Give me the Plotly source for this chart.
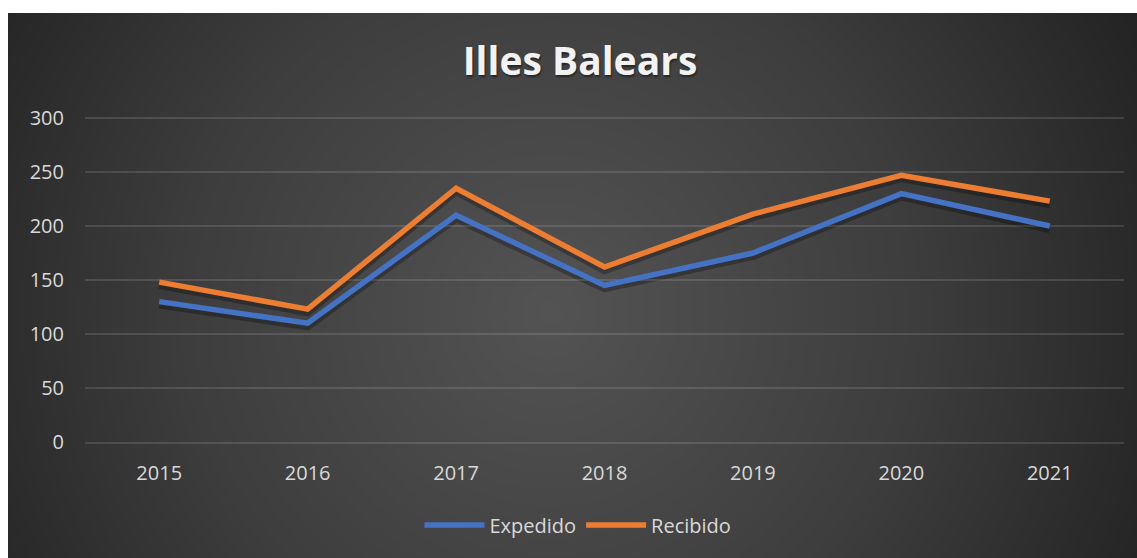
import numpy as np
import plotly.graph_objects as go

years = ["2015", "2016", "2017", "2018", "2019", "2020", "2021"]
expedido = [130, 110, 210, 145, 175, 230, 200]
recibido = [148, 123, 235, 162, 211, 247, 223]
y_ticks = [0, 50, 100, 150, 200, 250, 300]

W, H = 1137, 558
ML, MT = 8, 13
PW, PH = W - ML, H - MT

# radial gradient background (style only)
nx, ny = 120, 60
gx = np.linspace(0, 1, nx)
gy = np.linspace(0, 1, ny)
X, Y = np.meshgrid(gx, gy)
cx, cy = 0.48, 0.45
D = np.sqrt(((X - cx) * PW) ** 2 + ((Y - cy) * PH) ** 2)
D = D / D.max()

fig = go.Figure()
fig.add_trace(go.Heatmap(
    x=gx, y=gy, z=D, xaxis="x", yaxis="y", zsmooth="best",
    colorscale=[[0, "#535353"], [0.55, "#3d3d3d"], [1, "#232323"]],
    showscale=False, hoverinfo="skip", showlegend=False,
))

Y_TOP = 302
PX_PER_UNIT = (442 - 118) / 300
x_dom = [(85 - ML) / PW, (1124 - ML) / PW]
y_dom = [(H - 442) / PH, (H - (442 - Y_TOP * PX_PER_UNIT)) / PH]
shift = 3 / PH
y_dom_s = [y_dom[0] - shift, y_dom[1] - shift]

# shadows
for vals in (expedido, recibido):
    fig.add_trace(go.Scatter(
        x=years, y=vals, mode="lines", xaxis="x2", yaxis="y2",
        line=dict(color="rgba(0,0,0,0.28)", width=8),
        showlegend=False, hoverinfo="skip",
    ))

fig.add_trace(go.Scatter(x=years, y=expedido, mode="lines", name="Expedido",
                         xaxis="x3", yaxis="y3",
                         line=dict(color="#4472C4", width=5.5)))
fig.add_trace(go.Scatter(x=years, y=recibido, mode="lines", name="Recibido",
                         xaxis="x3", yaxis="y3",
                         line=dict(color="#ED7D31", width=5.5)))

hidden = dict(visible=False, fixedrange=True, automargin=False)
grid_col = "rgba(255,255,255,0.12)"

fig.update_layout(
    width=W, height=H,
    margin=dict(l=ML, r=0, t=MT, b=0, autoexpand=False),
    paper_bgcolor="white",
    plot_bgcolor="rgba(0,0,0,0)",
    font=dict(family="Open Sans", color="#d9d9d9", size=20),
    title=dict(text="<b>Illes Balears</b>", x=580 / W, xanchor="center",
               y=1 - 61 / H, yanchor="middle",
               font=dict(family="Open Sans", size=39, color="#f2f2f2",
                         shadow="1px 2px 2px rgba(0,0,0,0.45)")),
    xaxis=dict(domain=[0, 1], range=[0, 1], **hidden),
    yaxis=dict(domain=[0, 1], range=[0, 1], **hidden),
    xaxis2=dict(domain=x_dom, type="category", range=[-0.5, 6.5], **hidden),
    yaxis2=dict(domain=y_dom_s, range=[0, Y_TOP], **hidden),
    xaxis3=dict(domain=x_dom, type="category", range=[-0.5, 6.5],
                anchor="y3", automargin=False, fixedrange=True,
                showgrid=False, zeroline=False,
                showline=True, linecolor=grid_col, linewidth=1.5,
                ticks="", tickfont=dict(size=20, color="#d9d9d9"),
                ticklabelstandoff=12),
    yaxis3=dict(domain=y_dom, range=[0, Y_TOP], tickvals=y_ticks,
                anchor="x3", automargin=False, fixedrange=True,
                showgrid=True, gridcolor=grid_col, gridwidth=1.5,
                zeroline=False, showline=False, ticks="",
                tickfont=dict(size=20, color="#d9d9d9"), ticklabelstandoff=20),
    legend=dict(orientation="h", x=574 / W, xanchor="center", y=(H - 525) / H,
                yanchor="middle", yref="container",
                font=dict(size=20, color="#d9d9d9"),
                bgcolor="rgba(0,0,0,0)", itemwidth=60, tracegroupgap=0),
    showlegend=True,
)

fig.write_html(
    "out.html",
    config={"displayModeBar": False},
    post_script="document.body.style.margin='0';document.body.style.overflow='hidden';",
)
